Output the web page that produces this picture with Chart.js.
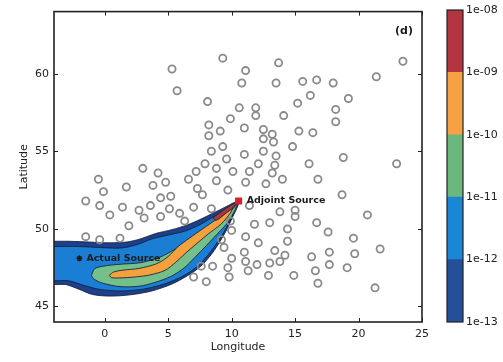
<!DOCTYPE html>
<html lang="en"><head><meta charset="utf-8"><title>Adjoint source footprint (d)</title>
<script src="https://cdn.jsdelivr.net/npm/chart.js@4/dist/chart.umd.min.js"></script>
<style>
  html, body { margin: 0; background: #fff; }
  .wrap { position: relative; width: 503px; height: 362px; overflow: hidden; }
  #plot { position: absolute; left: 0; top: 0; }
  #cbar { position: absolute; left: 440px; top: 0; }
</style></head>
<body>
<div class="wrap">
  <canvas id="plot" width="440" height="362"></canvas>
  <canvas id="cbar" width="63" height="362"></canvas>
</div>
<script>
// Monitoring stations (open circles), lon / lat.
const STATION_LON = [
  5.3, 5.7, 9.3, 11.1, 10.8, 8.1, 10.6, 9.9, 8.2, 9.1, 8.2, 11.0, 9.3, 8.4, 9.6, 11.0, 7.9, 8.8, 3.0, 4.2,
  7.2, 10.1, -0.5, 13.7, 13.5, 15.6, 16.7, 18.0, 16.2, 19.2, 21.4, 23.5, 15.2, 11.9, 11.9, 14.1, 18.2, 18.2, 12.5, 13.2,
  15.3, 16.4, 12.5, 13.3, 14.8, 12.5, 13.5, 18.8, 12.1, 13.4, 16.1, 23.0, 11.4, 13.2, 14.0, 16.8, 11.1, 12.7, 1.7, 3.8,
  4.8, 6.6, 8.8, -0.1, 5.2, 7.3, 7.7, 9.7, 4.4, 18.7, -1.5, -0.4, 1.4, 2.7, 3.6, 5.1, 7.0, 8.4, 5.9, 0.4,
  3.1, 4.4, 6.3, 11.4, 13.8, 15.0, 15.0, 9.9, 11.8, 13.0, 16.7, 20.7, 1.9, 14.4, 17.6, 10.0, 11.1, 12.1, 14.4, 19.6,
  13.4, 11.0, 17.7, 19.7, 14.2, 16.3, 11.1, 12.0, 13.0, 13.8, 17.7, 19.1, 11.3, 16.6, 12.9, 14.9, 16.8, 21.7, 21.3, -1.5,
  -0.4, 1.2, 9.2, 9.4, 10.0, 9.7, 7.6, 8.5, 7.0, 8.0, 9.8,
];
const STATION_LAT = [
  60.3, 58.9, 61.0, 60.2, 59.4, 58.2, 57.8, 57.1, 56.7, 56.3, 56.0, 56.5, 55.3, 55.0, 54.5, 54.8, 54.2, 53.9, 53.9, 53.6,
  53.7, 53.7, 53.2, 60.7, 59.4, 59.5, 59.6, 59.4, 58.6, 58.4, 59.8, 60.8, 58.1, 57.8, 57.3, 57.3, 57.7, 56.9, 56.4, 56.1,
  56.3, 56.2, 55.8, 55.6, 55.3, 55.0, 54.7, 54.6, 54.2, 54.1, 54.2, 54.2, 53.7, 53.6, 53.2, 53.2, 53.0, 52.9, 52.7, 52.8,
  53.0, 53.2, 53.1, 52.4, 52.1, 52.6, 52.2, 52.5, 52.0, 52.2, 51.8, 51.5, 51.4, 51.2, 51.5, 51.3, 51.4, 51.3, 51.0, 50.9,
  50.7, 50.8, 50.5, 51.5, 51.1, 51.2, 50.8, 50.5, 50.3, 50.4, 50.4, 50.9, 50.2, 50.0, 49.8, 49.9, 49.5, 49.1, 49.2, 49.4,
  48.6, 48.5, 48.5, 48.4, 48.3, 48.2, 47.9, 47.7, 47.8, 47.9, 47.7, 47.5, 47.3, 47.3, 47.0, 47.0, 46.5, 48.7, 46.2, 49.5,
  49.3, 49.4, 49.3, 48.8, 48.1, 47.5, 47.6, 47.6, 46.9, 46.6, 46.9,
];

// Source positions.
const ADJOINT_SOURCE = [10.55, 51.8];
const ACTUAL_SOURCE = [-2.0, 48.1];

// Filled contour outlines (lon, lat), one closed ring per level.
const LEVEL_1E13 = [
  [-4.3, 49.2], [-2.8, 49.2], [-1.2, 49.15], [0.4, 49.1], [1.7, 49.15], [2.8, 49.35], [4.0, 49.7], [5.3, 49.95],
  [6.5, 50.25], [7.5, 50.6], [8.5, 51.0], [9.6, 51.45], [10.2, 51.7], [10.6, 51.8],
  [10.5, 51.5], [10.1, 50.8], [9.55, 49.85], [8.9, 48.95], [8.3, 48.25], [7.5, 47.55], [6.55, 47.0], [5.3, 46.45],
  [3.7, 46.0], [2.0, 45.75], [0.4, 45.67], [-0.95, 45.77], [-2.0, 46.1], [-3.0, 46.4], [-4.3, 46.55], [-4.3, 49.2],
];
const LEVEL_1E12 = [
  [-4.3, 48.86], [-2.0, 48.86], [-0.4, 48.8], [1.3, 48.77], [2.6, 49.0], [3.7, 49.35], [5.0, 49.6], [6.3, 49.85],
  [7.5, 50.27], [8.5, 50.75], [9.5, 51.2], [10.2, 51.55], [10.5, 51.73],
  [10.35, 51.5], [9.9, 50.6], [9.25, 49.6], [8.5, 48.7], [7.8, 48.0], [6.95, 47.36], [5.9, 46.85], [4.5, 46.4],
  [2.9, 46.1], [1.2, 46.0], [-0.4, 46.1], [-1.6, 46.35], [-2.8, 46.65], [-4.3, 46.8], [-4.3, 48.86],
];
const LEVEL_1E11 = [
  [-1.05, 47.0], [-0.8, 47.43], [-0.1, 47.6], [1.2, 47.72], [2.8, 47.82], [4.35, 48.18], [5.45, 48.65], [6.5, 49.22],
  [7.5, 49.8], [8.6, 50.36], [9.55, 50.86], [10.2, 51.38], [10.47, 51.67],
  [10.27, 51.22], [9.7, 50.42], [8.9, 49.7], [8.0, 48.92], [7.1, 48.16], [6.25, 47.48], [5.2, 46.93], [3.95, 46.55],
  [2.75, 46.31], [1.2, 46.28], [-0.15, 46.5], [-0.85, 46.76], [-1.05, 47.0],
];
const LEVEL_1E10 = [
  [0.35, 47.0], [0.7, 47.22], [1.35, 47.33], [2.75, 47.46], [4.1, 47.76], [5.0, 48.22], [5.75, 48.84], [6.7, 49.42],
  [7.75, 50.02], [8.7, 50.56], [9.5, 51.0], [10.05, 51.36],
  [9.9, 51.02], [9.15, 50.3], [8.15, 49.67], [7.2, 49.02], [6.4, 48.46], [5.6, 47.85], [4.75, 47.33], [3.55, 47.03],
  [2.35, 46.9], [1.2, 46.84], [0.55, 46.85], [0.35, 47.0],
];
const LEVEL_1E09 = [
  [8.5, 50.7], [9.25, 51.15], [9.9, 51.5], [10.35, 51.68], [10.1, 51.36], [9.5, 50.98], [8.8, 50.56], [8.5, 50.7],
];

const X_TICKS = [0, 5, 10, 15, 20, 25];
const Y_TICKS = [45, 50, 55, 60];
const CBAR_LABELS = ['1e-13', '1e-12', '1e-11', '1e-10', '1e-09', '1e-08'];
const CBAR_COLORS = ['#24509a', '#1a86d6', '#6cb87c', '#f6a244', '#b2353f'];

const INK = '#222';
const RING = 'rgba(22,30,52,0.85)';
Chart.defaults.font.family = '"DejaVu Sans", sans-serif';
Chart.defaults.color = INK;

const xy = pairs => pairs.map(([x, y]) => ({x, y}));
const band = (ring, color, order) => ({
  data: xy(ring), showLine: true, fill: 'shape', tension: 0.3,
  backgroundColor: color, borderColor: RING, borderWidth: 1, pointRadius: 0, order,
});

// Inward tick marks on all four sides, the frame, and the text labels.
const decor = {
  id: 'decor',
  afterDatasetsDraw(chart) {
    const {ctx, chartArea: a, scales: {x, y}} = chart;
    ctx.save();
    ctx.strokeStyle = INK;
    ctx.lineWidth = 1;
    ctx.beginPath();
    for (const v of X_TICKS) {
      const px = Math.round(x.getPixelForValue(v)) + 0.5;
      ctx.moveTo(px, a.bottom); ctx.lineTo(px, a.bottom - 4);
      ctx.moveTo(px, a.top); ctx.lineTo(px, a.top + 4);
    }
    for (const v of Y_TICKS) {
      const py = Math.round(y.getPixelForValue(v)) + 0.5;
      ctx.moveTo(a.left, py); ctx.lineTo(a.left + 4, py);
      ctx.moveTo(a.right, py); ctx.lineTo(a.right - 4, py);
    }
    ctx.stroke();
    ctx.lineWidth = 1.6;
    ctx.strokeRect(a.left, a.top, a.right - a.left, a.bottom - a.top);

    ctx.fillStyle = '#1c1c1c';
    ctx.textBaseline = 'middle';
    ctx.font = 'bold 9.5px "DejaVu Sans", sans-serif';
    ctx.fillText('Adjoint Source', x.getPixelForValue(ADJOINT_SOURCE[0]) + 8, y.getPixelForValue(ADJOINT_SOURCE[1]));
    ctx.fillText('Actual Source', x.getPixelForValue(ACTUAL_SOURCE[0]) + 7, y.getPixelForValue(ACTUAL_SOURCE[1]));
    ctx.font = 'bold 11px "DejaVu Sans", sans-serif';
    ctx.textAlign = 'center';
    ctx.fillText('(d)', a.right - 18, a.top + 20);
    ctx.restore();
  },
};

new Chart(document.getElementById('plot'), {
  type: 'scatter',
  data: {
    datasets: [
      {
        data: [{x: ADJOINT_SOURCE[0], y: ADJOINT_SOURCE[1]}],
        pointStyle: 'rect', pointRadius: 5, backgroundColor: '#d6202c', borderWidth: 0, order: 0,
      },
      {
        data: [{x: ACTUAL_SOURCE[0], y: ACTUAL_SOURCE[1]}],
        pointStyle: 'star', pointRadius: 3, borderColor: '#1c1c1c', borderWidth: 1.4, order: 0,
      },
      {
        data: STATION_LON.map((x, i) => ({x, y: STATION_LAT[i]})),
        pointStyle: 'circle', pointRadius: 3.6, borderWidth: 1.8,
        borderColor: '#8a8a8a', backgroundColor: 'rgba(0,0,0,0)', order: 1,
      },
      band(LEVEL_1E09, '#a8383c', 2),
      band(LEVEL_1E10, '#f5a03f', 3),
      band(LEVEL_1E11, '#74c08a', 4),
      band(LEVEL_1E12, '#1a7fd4', 5),
      band(LEVEL_1E13, '#1c3f8e', 6),
    ],
  },
  options: {
    responsive: false, animation: false, events: [],
    layout: {padding: {top: 10, right: 18, bottom: 0, left: 0}},
    plugins: {legend: {display: false}, tooltip: {enabled: false}},
    scales: {
      x: {
        type: 'linear', min: -4, max: 25,
        grid: {display: false, drawTicks: false}, border: {display: false},
        afterBuildTicks: s => { s.ticks = X_TICKS.map(value => ({value})); },
        afterFit: s => { s.height = 40; },
        ticks: {padding: 6, font: {size: 11}, color: INK},
        title: {display: true, text: 'Longitude', font: {size: 11}, color: INK, padding: {top: 0, bottom: 8}},
      },
      y: {
        type: 'linear', min: 44, max: 64,
        grid: {display: false, drawTicks: false}, border: {display: false},
        afterBuildTicks: s => { s.ticks = Y_TICKS.map(value => ({value})); },
        afterFit: s => { s.width = 54; },
        ticks: {padding: 5, font: {size: 11}, color: INK},
        title: {display: true, text: 'Latitude', font: {size: 11}, color: INK, padding: {top: 18, bottom: 0}},
      },
    },
  },
  plugins: [decor],
});

// Colour bar: one stacked column per decade.
const cbarFrame = {
  id: 'cbarFrame',
  afterDatasetsDraw(chart) {
    const {ctx, chartArea: a} = chart;
    ctx.save();
    ctx.strokeStyle = INK;
    ctx.lineWidth = 1.2;
    ctx.strokeRect(a.left, a.top, a.right - a.left, a.bottom - a.top);
    ctx.restore();
  },
};

new Chart(document.getElementById('cbar'), {
  type: 'bar',
  data: {
    labels: [''],
    datasets: CBAR_COLORS.map(c => ({data: [1], backgroundColor: c, borderWidth: 0, barPercentage: 1, categoryPercentage: 1})),
  },
  options: {
    responsive: false, animation: false, events: [],
    layout: {padding: {top: 10, right: 0, bottom: 40, left: 7}},
    plugins: {legend: {display: false}, tooltip: {enabled: false}},
    scales: {
      x: {stacked: true, display: false},
      y: {
        stacked: true, position: 'right', min: 0, max: 5,
        grid: {display: false, drawTicks: false}, border: {display: false},
        afterBuildTicks: s => { s.ticks = CBAR_LABELS.map((_, value) => ({value})); },
        afterFit: s => { s.width = 40; },
        ticks: {padding: 3, font: {size: 11}, color: INK, callback: v => CBAR_LABELS[v]},
      },
    },
  },
  plugins: [cbarFrame],
});
</script>
</body></html>
